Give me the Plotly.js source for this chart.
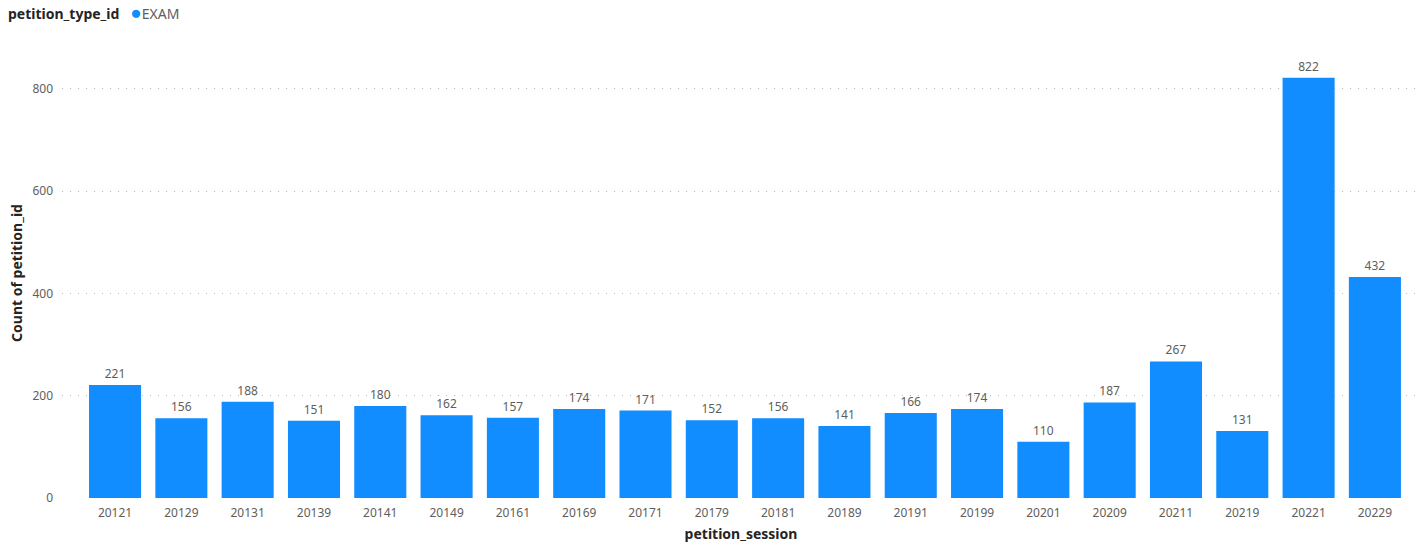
<!DOCTYPE html>
<html>
<head>
<meta charset="utf-8">
<script src="https://cdn.plot.ly/plotly-3.0.1.min.js"></script>
<style>
  html, body { margin: 0; padding: 0; background: #ffffff; }
  #chart { width: 1425px; height: 548px; }
</style>
</head>
<body>
<div id="chart"></div>
<script>
const sessions = ["20121","20129","20131","20139","20141","20149","20161","20169","20171","20179","20181","20189","20191","20199","20201","20209","20211","20219","20221","20229"];
const counts = [221,156,188,151,180,162,157,174,171,152,156,141,166,174,110,187,267,131,822,432];
const seriesName = "EXAM";
const legendTitle = "petition_type_id";
const xTitle = "petition_session";
const yTitle = "Count of petition_id";
const yTicks = [0,200,400,600,800];

const FONT = "Noto Sans, Open Sans, sans-serif";
const barColor = "#118DFF";
const labelColor = "#605E5C";
const titleColor = "#252423";

const barTrace = {
  type: "bar",
  x: sessions,
  y: counts,
  name: seriesName,
  marker: { color: barColor },
  text: counts.map(String),
  textposition: "outside",
  cliponaxis: false,
  textfont: { family: FONT, size: 12, color: labelColor },
  showlegend: false,
  hoverinfo: "x+y"
};

const layout = {
  width: 1425,
  height: 548,
  paper_bgcolor: "#ffffff",
  plot_bgcolor: "#ffffff",
  margin: { l: 62, r: 5, t: 48, b: 50 },
  font: { family: FONT, size: 12, color: labelColor },
  bargap: 0.215,
  showlegend: false,
  annotations: [{
    xref: "paper", yref: "paper",
    x: -56 / 1358, y: 1 + 36 / 450,
    xanchor: "left", yanchor: "middle",
    showarrow: false,
    align: "left",
    text: "<b><span style='color:" + titleColor + "'>" + legendTitle + "</span></b>   <span style='color:" + barColor + ";font-size:19px'>●</span>" + seriesName,
    font: { family: FONT, size: 14, color: labelColor }
  }],
  xaxis: {
    type: "category",
    range: [-0.8, 19.68],
    showgrid: false,
    showline: false,
    zeroline: false,
    ticks: "",
    ticklabelstandoff: 6,
    tickfont: { family: FONT, size: 12, color: labelColor },
    title: { text: "<b>" + xTitle + "</b>", font: { family: FONT, size: 14, color: titleColor }, standoff: 9 },
    automargin: false
  },
  yaxis: {
    range: [0, 880],
    tickvals: yTicks,
    ticktext: yTicks.map(String),
    showgrid: true,
    gridcolor: "#B8B6B4",
    griddash: "1px,7px",
    gridwidth: 1,
    zeroline: false,
    showline: false,
    ticks: "",
    ticklabelstandoff: 8,
    tickfont: { family: FONT, size: 12, color: labelColor },
    title: { text: "<b>" + yTitle + "</b>", font: { family: FONT, size: 14, color: titleColor }, standoff: 6 },
    automargin: false
  }
};

Plotly.newPlot("chart", [barTrace], layout, { displayModeBar: false, staticPlot: true });
</script>
</body>
</html>
